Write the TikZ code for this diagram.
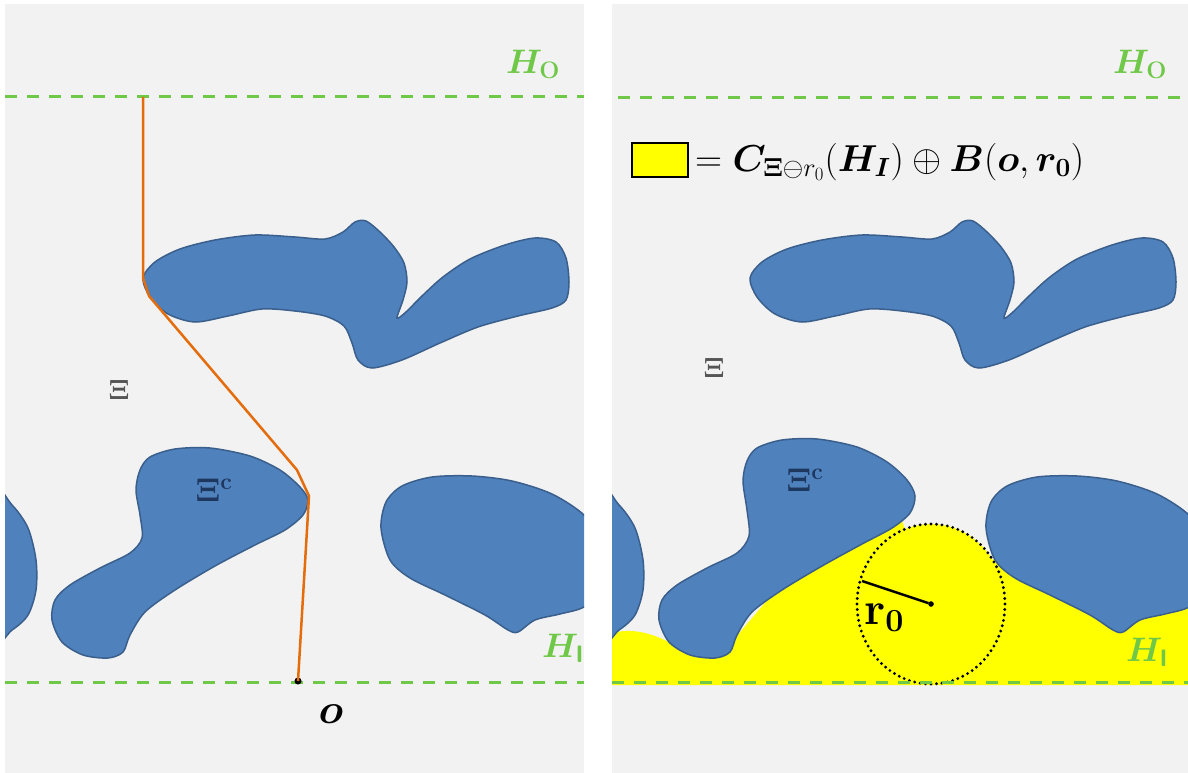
\documentclass[tikz,border=0pt]{standalone}
\usepackage{fix-cm}
\usepackage{amsmath,bm}
\definecolor{panelbg}{RGB}{242,242,242}
\definecolor{blobfill}{RGB}{79,129,189}
\definecolor{blobline}{RGB}{58,95,140}
\definecolor{hgreen}{RGB}{112,200,72}
\definecolor{pathorange}{RGB}{228,108,10}
\definecolor{xigray}{RGB}{85,85,85}
\definecolor{xinavy}{RGB}{30,55,95}
\definecolor{yel}{RGB}{255,255,0}
\newcommand\TopBlob{\draw[blob] plot[smooth cycle,tension=0.5] coordinates {(143,278) (155,262) (180,249) (215,240) (255,235) (295,237) (325,239) (343,232) (355,222) (366,221) (380,232) (394,247) (404,263) (407,282) (403,300) (397,318) (406,312) (422,296) (443,277) (470,259) (505,245) (535,238) (556,242) (566,258) (569,282) (566,300) (552,308) (518,316) (478,327) (440,343) (402,360) (372,368) (358,360) (352,343) (344,326) (325,316) (295,311) (262,309) (228,316) (195,322) (168,314) (150,297)};}
\newcommand\RightBlob{\draw[blob] plot[smooth cycle,tension=0.5] coordinates {(381,528) (386,502) (402,486) (432,477) (472,476) (512,481) (552,494) (584,515) (600,540) (600,590) (584,607) (560,614) (535,620) (518,632) (508,630) (485,615) (445,595) (410,578) (390,560)};}
\newcommand\EdgeBlob{\draw[blob] plot[smooth cycle,tension=0.5] coordinates {(-10,490) (12,505) (28,528) (36,560) (36,590) (28,615) (12,630) (-10,640)};}
\begin{document}
\begin{tikzpicture}[x=1pt,y=-1pt,
  blob/.style={fill=blobfill,draw=blobline,line width=1.5pt},
  hline/.style={draw=hgreen,line width=3pt,dash pattern=on 12pt off 10pt},
  hlab/.style={text=hgreen,inner sep=0pt,font=\fontsize{34}{40}\selectfont},
  xilab/.style={inner sep=0pt,font=\fontsize{28}{34}\selectfont},
  xiclab/.style={inner sep=0pt,font=\fontsize{33}{38}\selectfont},
  orangepath/.style={draw=pathorange,line width=2.5pt,line join=round},
  dotcirc/.style={draw=black,line width=3.2pt,dash pattern=on 0pt off 5.5pt,line cap=round}]
\useasboundingbox (0,0) rectangle (1188,773);
\fill[white] (0,0) rectangle (1188,773);
\fill[panelbg] (5,4) rectangle (584,773);
\fill[panelbg] (612,4) rectangle (1188,773);
% ---------- left panel ----------
\begin{scope}
\clip (5,4) rectangle (584,773);
\TopBlob
\RightBlob
\EdgeBlob
\draw[blob] plot[smooth cycle,tension=0.5] coordinates {(136,490) (140,470) (150,457) (175,449) (210,448) (250,456) (280,470) (300,487) (308,500) (303,515) (285,530) (255,545) (215,566) (175,590) (145,612) (130,635) (123,652) (108,658) (83,655) (62,642) (52,620) (55,600) (70,585) (100,568) (130,553) (142,538) (140,515)};
\end{scope}
\draw[hline] (5,97) -- (584,97);
\draw[hline] (5,682) -- (584,682);
\coordinate (pstart) at (143,97);
\node[circle,fill=black,inner sep=0pt,minimum size=7pt] (odot) at (298,681) {};
\draw[orangepath] (pstart) -- (143,278) -- (149,296) -- (297,470) -- (309,496) -- (odot.center);
\node[hlab] (hoL) at (533,64) {$\bm{H}_{\mathbf{O}}$};
\node[hlab] (hiL) at (563,648) {$\bm{H}_{\text{\sffamily\bfseries I}}$};
\node[xilab,text=xigray] (xiL) at (119,390) {$\bm{\Xi}$};
\node[xiclab,text=xinavy] (xicL) at (214,490) {$\bm{\Xi}^{\mathbf{c}}$};
\node[inner sep=0pt,font=\fontsize{42}{48}\selectfont] (olab) at (331,714) {$\bm{o}$};
% ---------- right panel ----------
\begin{scope}
\clip (612,4) rectangle (1188,773);
\fill[yel] (612,685) -- (612,633) .. controls (635,627) and (660,634) .. (690,655) -- (725,650) -- (780,585) -- (860,540) -- (900,515) -- (931,604) -- (1000,555) -- (1050,590) -- (1090,610) -- (1115,625) -- (1140,615) -- (1188,602) -- (1188,685) -- cycle;
\fill[yel] (931,604) ellipse [x radius=74pt, y radius=80pt];
\draw[dotcirc] (931,604) ellipse [x radius=74pt, y radius=80pt];
\begin{scope}[xshift=607pt]
\TopBlob
\EdgeBlob
\end{scope}
\begin{scope}[xshift=605pt]
\RightBlob
\end{scope}
\draw[blob] plot[smooth cycle,tension=0.5] coordinates {(743,481) (747,461) (757,448) (782,440) (817,439) (857,447) (887,462) (907,480) (915,496) (910,513) (892,528) (862,544) (822,566) (782,590) (752,612) (737,635) (730,652) (715,658) (690,655) (669,642) (659,620) (662,600) (677,585) (707,568) (737,553) (749,536) (747,510)};
\end{scope}
\draw[hline] (618,98) -- (1188,98);
\draw[hline] (612,682) -- (1188,682);
\node[circle,draw=black,fill=black,inner sep=0pt,minimum size=5pt] (ctr) at (931,604) {};
\coordinate (rim) at (862,581);
\draw[line width=2.5pt] (rim) -- (ctr);
\node[inner sep=0pt,font=\fontsize{46}{52}\selectfont] (rlab) at (884,618) {$\mathbf{r}_{\mathbf{0}}$};
\node[hlab] (hoR) at (1140,64) {$\bm{H}_{\mathbf{O}}$};
\node[hlab] (hiR) at (1147,652) {$\bm{H}_{\text{\sffamily\bfseries I}}$};
\node[xilab,text=xigray] (xiR) at (714,368) {$\bm{\Xi}$};
\node[xiclab,text=xinavy] (xicR) at (805,480) {$\bm{\Xi}^{\mathbf{c}}$};
\node[draw=black,line width=2pt,fill=yel,minimum width=56pt,minimum height=34pt,inner sep=0pt] (legendbox) at (660,160) {};
\node[anchor=west,inner sep=0pt,font=\fontsize{37.5}{44}\selectfont] (formula) at (695,162) {$= \bm{C}_{\bm{\Xi}\ominus r_{0}}(\bm{H}_{\bm{I}}) \oplus \bm{B}(\bm{o},\bm{r}_{\bm{0}})$};
\end{tikzpicture}
\end{document}
